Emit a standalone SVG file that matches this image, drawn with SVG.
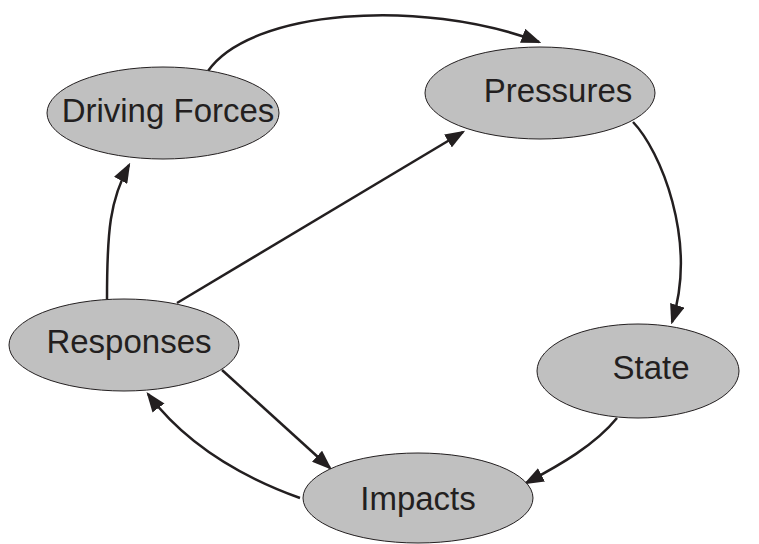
<svg xmlns="http://www.w3.org/2000/svg" width="759" height="544" viewBox="0 0 759 544">
<style>
.node ellipse{fill:#c0c0c0;stroke:#231f20;stroke-width:1}
.node text{font-family:"Liberation Sans",Arial,sans-serif;font-size:33px;fill:#231f20;text-anchor:middle}
.edge{fill:none;stroke:#231f20;stroke-width:2.5;marker-end:url(#arr)}
</style>
<defs>
<marker id="arr" markerUnits="userSpaceOnUse" markerWidth="20" markerHeight="15" refX="14" refY="6" orient="auto" viewBox="0 0 16 12">
<path d="M0,0 L16,6 L0,12 z" fill="#231f20"/>
</marker>
</defs>
<rect width="759" height="544" fill="#ffffff"/>
<g id="connectors">
<path class="edge" d="M208,71 C250,10 420,-3 539,42"/>
<path class="edge" d="M633,122 C660,150 698,240 672,322"/>
<path class="edge" d="M107,299 C107,230 110,200 129,165"/>
<path class="edge" d="M177,303 L463,132"/>
<path class="edge" d="M222,370 L330,468"/>
<path class="edge" d="M300,498 C250,480 190,450 148,394"/>
<path class="edge" d="M617,418 C595,445 560,465 526,483"/>
</g>
<g id="driving-forces" class="node">
<ellipse cx="163" cy="113" rx="116" ry="46"/>
<text x="168" y="122">Driving Forces</text>
</g>
<g id="pressures" class="node">
<ellipse cx="540" cy="93" rx="115" ry="46"/>
<text x="558" y="102">Pressures</text>
</g>
<g id="state" class="node">
<ellipse cx="638" cy="371" rx="101" ry="47"/>
<text x="651" y="379">State</text>
</g>
<g id="responses" class="node">
<ellipse cx="124" cy="345" rx="115" ry="46"/>
<text x="129" y="353">Responses</text>
</g>
<g id="impacts" class="node">
<ellipse cx="418" cy="498" rx="115" ry="45"/>
<text x="418" y="510">Impacts</text>
</g>
</svg>
